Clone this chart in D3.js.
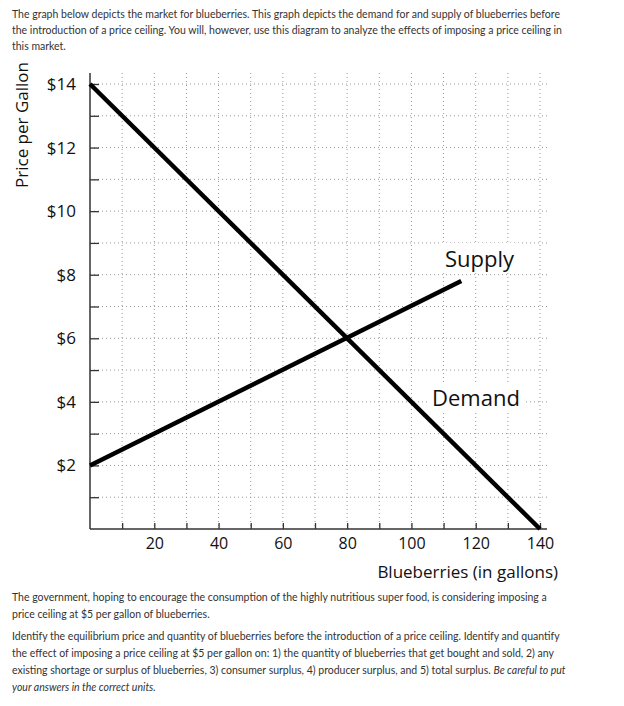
<!DOCTYPE html>
<html>
<head>
<meta charset="utf-8">
<script src="https://cdn.jsdelivr.net/npm/d3@7"></script>
<style>
  body { margin: 0; background: #fff; }
  svg { display: block; }
  .para { font-family: Lato, "Open Sans", sans-serif; font-size: 10.5px; fill: #333; }
  .chart text { font-family: "Open Sans", "Noto Sans", sans-serif; fill: #111; }
</style>
</head>
<body>
<div id="chart"></div>
<script>
// data
var demandPts = [[0, 14], [140, 0]];
var supplyPts = [[0, 2], [115.5, 7.8]];
var xTicks = [10, 20, 30, 40, 50, 60, 70, 80, 90, 100, 110, 120, 130, 140];
var yTicks = [1, 2, 3, 4, 5, 6, 7, 8, 9, 10, 11, 12, 13, 14];
var topLines = [
  "The graph below depicts the market for blueberries. This graph depicts the demand for and supply of blueberries before",
  "the introduction of a price ceiling. You will, however, use this diagram to analyze the effects of imposing a price ceiling in",
  "this market."
];
var bottomLines = [
  ["The government, hoping to encourage the consumption of the highly nutritious super food, is considering imposing a", ""],
  ["price ceiling at $5 per gallon of blueberries.", ""],
  ["Identify the equilibrium price and quantity of blueberries before the introduction of a price ceiling. Identify and quantify", ""],
  ["the effect of imposing a price ceiling at $5 per gallon on: 1) the quantity of blueberries that get bought and sold, 2) any", ""],
  ["existing shortage or surplus of blueberries, 3) consumer surplus, 4) producer surplus, and 5) total surplus. ", "Be careful to put"],
  ["", "your answers in the correct units."]
];
var bottomY = [601, 618, 640, 657, 674, 691];

var width = 624, height = 706;
var svg = d3.select("#chart").append("svg")
  .attr("width", width)
  .attr("height", height);

// question text
svg.append("g").selectAll("text")
  .data(topLines)
  .enter()
  .append("text")
  .attr("class", "para")
  .attr("x", 12)
  .attr("y", function(d, i) { return 18 + i * 16; })
  .text(function(d) { return d; });

var bt = svg.append("g").selectAll("text")
  .data(bottomLines)
  .enter()
  .append("text")
  .attr("class", "para")
  .attr("x", 12)
  .attr("y", function(d, i) { return bottomY[i]; });
bt.append("tspan").text(function(d) { return d[0]; });
bt.append("tspan").style("font-style", "italic").text(function(d) { return d[1]; });

// scales
var x = d3.scaleLinear().domain([0, 140]).range([90, 540]);
var y = d3.scaleLinear().domain([0, 14]).range([529, 84]);
var plotTop = 73, plotRight = 547;

var g = svg.append("g").attr("class", "chart");

// dotted grid
g.append("g").selectAll("line")
  .data(yTicks)
  .enter()
  .append("line")
  .attr("x1", x(0)).attr("x2", plotRight)
  .attr("y1", function(d) { return y(d); })
  .attr("y2", function(d) { return y(d); })
  .attr("stroke", "#999")
  .attr("stroke-width", 1)
  .attr("stroke-dasharray", "1,3");

g.append("g").selectAll("line")
  .data(xTicks)
  .enter()
  .append("line")
  .attr("x1", function(d) { return x(d); })
  .attr("x2", function(d) { return x(d); })
  .attr("y1", plotTop).attr("y2", y(0))
  .attr("stroke", "#999")
  .attr("stroke-width", 1)
  .attr("stroke-dasharray", "1,3");

// axes
var yAxis = d3.axisLeft(y)
  .tickValues(yTicks)
  .tickSizeInner(-9)
  .tickSizeOuter(0)
  .tickPadding(14)
  .tickFormat(function(d) { return d % 2 === 0 ? "$" + d : ""; });

var xAxis = d3.axisBottom(x)
  .tickValues(xTicks)
  .tickSizeInner(-6)
  .tickSizeOuter(0)
  .tickPadding(9)
  .tickFormat(function(d) { return d % 20 === 0 ? d : ""; });

var ya = g.append("g")
  .attr("transform", "translate(" + x(0) + ",0)")
  .call(yAxis);
var xa = g.append("g")
  .attr("transform", "translate(0," + y(0) + ")")
  .call(xAxis);

[ya, xa].forEach(function(a) {
  a.select(".domain").remove();
  a.selectAll(".tick line").attr("stroke", "#333").attr("stroke-width", 1.3);
  a.selectAll(".tick text").style("font-size", "16px").attr("fill", "#111");
});
ya.selectAll(".tick text").style("font-size", "17px");

g.append("line")
  .attr("x1", x(0)).attr("x2", x(0))
  .attr("y1", plotTop).attr("y2", y(0))
  .attr("stroke", "#333").attr("stroke-width", 1.5);
g.append("line")
  .attr("x1", x(0)).attr("x2", plotRight)
  .attr("y1", y(0)).attr("y2", y(0))
  .attr("stroke", "#333").attr("stroke-width", 1.5);

// axis titles
g.append("text")
  .attr("transform", "translate(28,125) rotate(-90)")
  .attr("text-anchor", "middle")
  .style("font-size", "17px")
  .text("Price per Gallon");

g.append("text")
  .attr("x", 558)
  .attr("y", 578)
  .attr("text-anchor", "end")
  .style("font-size", "17px")
  .text("Blueberries (in gallons)");

// curves
var line = d3.line()
  .x(function(d) { return x(d[0]); })
  .y(function(d) { return y(d[1]); });

g.append("path")
  .datum(demandPts)
  .attr("d", line)
  .attr("fill", "none")
  .attr("stroke", "#000")
  .attr("stroke-width", 4.5);

g.append("path")
  .datum(supplyPts)
  .attr("d", line)
  .attr("fill", "none")
  .attr("stroke", "#000")
  .attr("stroke-width", 4.5);

// curve labels with white backing
function label(txt, lx, ly) {
  var t = g.append("text")
    .attr("x", lx)
    .attr("y", ly)
    .style("font-size", "22px")
    .text(txt);
  var b = t.node().getBBox();
  g.insert("rect", function() { return t.node(); })
    .attr("x", b.x - 5).attr("y", b.y)
    .attr("width", b.width + 10).attr("height", b.height)
    .attr("fill", "#fff");
}
label("Supply", 445, 267);
label("Demand", 432, 406);
</script>
</body>
</html>
